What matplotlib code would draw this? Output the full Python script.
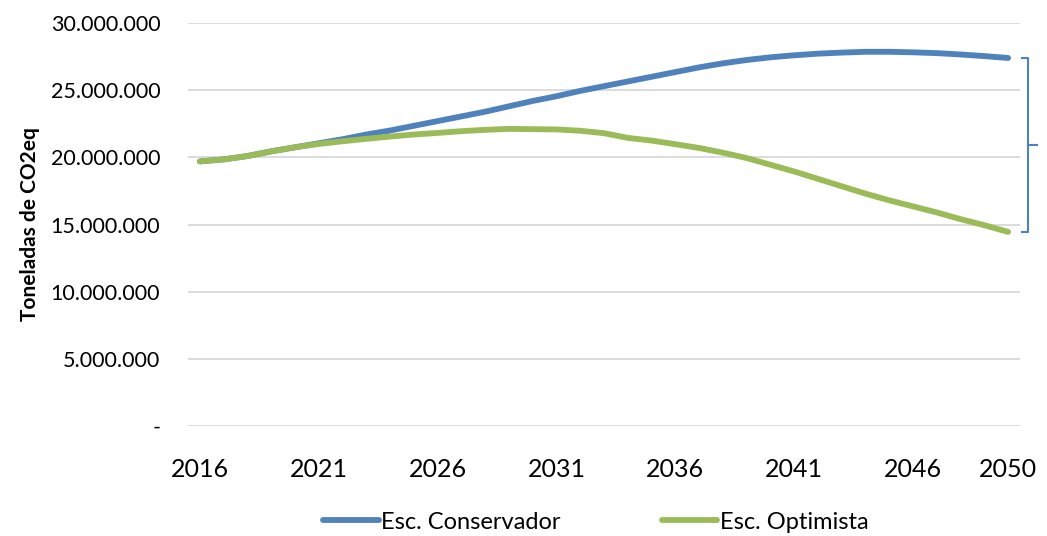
import matplotlib
matplotlib.use("Agg")
import matplotlib.pyplot as plt
from matplotlib.ticker import FuncFormatter
import matplotlib.transforms as mtransforms

# Datos (toneladas de CO2eq)
anios = list(range(2016, 2051))
esc_conservador = [
    19.70e6, 19.85e6, 20.10e6, 20.45e6, 20.75e6, 21.05e6, 21.35e6, 21.70e6,
    22.00e6, 22.35e6, 22.70e6, 23.05e6, 23.40e6, 23.80e6, 24.20e6, 24.55e6,
    24.95e6, 25.30e6, 25.65e6, 26.00e6, 26.35e6, 26.70e6, 27.00e6, 27.25e6,
    27.45e6, 27.60e6, 27.72e6, 27.80e6, 27.86e6, 27.86e6, 27.82e6, 27.76e6,
    27.66e6, 27.54e6, 27.40e6,
]
esc_optimista = [
    19.70e6, 19.85e6, 20.10e6, 20.45e6, 20.75e6, 21.00e6, 21.20e6, 21.38e6,
    21.55e6, 21.70e6, 21.82e6, 21.95e6, 22.05e6, 22.12e6, 22.10e6, 22.08e6,
    21.98e6, 21.80e6, 21.45e6, 21.25e6, 20.98e6, 20.70e6, 20.35e6, 19.95e6,
    19.45e6, 18.95e6, 18.40e6, 17.85e6, 17.30e6, 16.80e6, 16.35e6, 15.90e6,
    15.40e6, 14.95e6, 14.45e6,
]
ticks_x = [2016, 2021, 2026, 2031, 2036, 2041, 2046, 2050]
ticks_y = [0, 5e6, 10e6, 15e6, 20e6, 25e6, 30e6]

azul = "#4F81BD"
verde = "#9BBB59"

plt.rcParams["font.family"] = ["Lato", "DejaVu Sans"]

fig = plt.figure(figsize=(10.47, 5.36), dpi=100)
ax = fig.add_axes([0.1796, 0.2052, 0.7946, 0.7518])

ax.plot(anios, esc_conservador, color=azul, lw=4.2, solid_capstyle="round",
        label="Esc. Conservador")
ax.plot(anios, esc_optimista, color=verde, lw=4.2, solid_capstyle="round",
        label="Esc. Optimista")

ax.set_xlim(anios[0] - 0.5, anios[-1] + 0.5)
ax.set_ylim(0, 30e6)
ax.set_xticks(ticks_x)
ax.set_xticklabels([str(t) for t in ticks_x], fontsize=18)
ax.set_yticks(ticks_y)


def formato_miles(v, pos):
    if v == 0:
        return "-"
    return f"{int(v):,}".replace(",", ".")


ax.yaxis.set_major_formatter(FuncFormatter(formato_miles))
ax.tick_params(axis="y", labelsize=15.5, length=0, pad=20)
ax.tick_params(axis="x", length=0, pad=23)

ax.grid(axis="y", color="#D9D9D9", lw=1.3)
ax.set_axisbelow(True)
for s in ax.spines.values():
    s.set_visible(False)

ax.set_ylabel("Toneladas de CO2eq", fontsize=15, fontweight="bold", labelpad=8)

# Llave a la derecha que marca la diferencia en 2050
tr = mtransforms.blended_transform_factory(ax.transAxes, ax.transData)
y_top = esc_conservador[-1]
y_bot = esc_optimista[-1]
y_mid = (y_top + y_bot) / 2
x0, x1, x2 = 1.0024, 1.0096, 1.0204
ax.plot([x0, x1, x1, x0], [y_top, y_top, y_bot, y_bot], color=azul, lw=1.5,
        transform=tr, clip_on=False)
ax.plot([x1, x2], [y_mid, y_mid], color=azul, lw=1.5, transform=tr, clip_on=False)

leg = ax.legend(loc="upper center", bbox_to_anchor=(0.49, -0.16), ncol=2,
                frameon=False, fontsize=17, handlelength=2.35, handletextpad=0.1,
                columnspacing=4.3)

fig.savefig("out.png", dpi=100)
